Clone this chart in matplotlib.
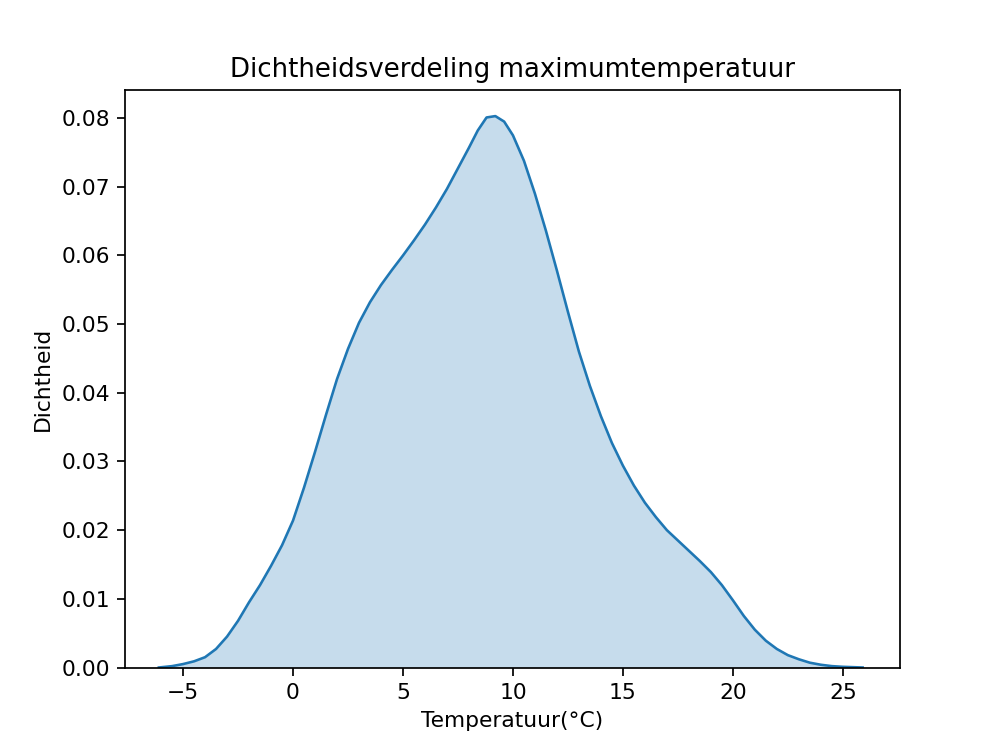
import matplotlib
matplotlib.use("Agg")
import matplotlib.pyplot as plt

temp = [-6.1, -5.5, -5, -4.5, -4, -3.5, -3, -2.5, -2, -1.5, -1, -0.5, 0, 0.5, 1, 1.5, 2, 2.5, 3, 3.5, 4, 4.5, 5, 5.5, 6, 6.5, 7, 7.5, 8, 8.4, 8.8, 9.2, 9.6, 10, 10.5, 11, 11.5, 12, 12.5, 13, 13.5, 14, 14.5, 15, 15.5, 16, 16.5, 17, 17.5, 18, 18.5, 19, 19.5, 20, 20.5, 21, 21.5, 22, 22.5, 23, 23.5, 24, 24.5, 25, 25.9]
density = [0.0, 0.0002, 0.0005, 0.0009, 0.0015, 0.0027, 0.0045, 0.0068, 0.0095, 0.0120, 0.0148, 0.0178, 0.0214, 0.0262, 0.0314, 0.0368, 0.0420, 0.0464, 0.0502, 0.0532, 0.0557, 0.0579, 0.0600, 0.0622, 0.0645, 0.0670, 0.0697, 0.0727, 0.0757, 0.0782, 0.0801, 0.0803, 0.0795, 0.0775, 0.0738, 0.0690, 0.0636, 0.0578, 0.0518, 0.0460, 0.0410, 0.0366, 0.0327, 0.0294, 0.0265, 0.0240, 0.0219, 0.0200, 0.0185, 0.0170, 0.0155, 0.0139, 0.0120, 0.0098, 0.0075, 0.0055, 0.0039, 0.0027, 0.0018, 0.0012, 0.0007, 0.0004, 0.0002, 0.0001, 0.0]

fig, ax = plt.subplots(figsize=(6.4, 4.8), dpi=156.25)
ax.plot(temp, density, color="#1f77b4", lw=1.2)
ax.fill_between(temp, density, color="#1f77b4", alpha=0.25, lw=0)
ax.set_xlim(-7.64, 27.6)
ax.set_ylim(0, 0.0841)
ax.set_title("Dichtheidsverdeling maximumtemperatuur")
ax.set_xlabel("Temperatuur(°C)")
ax.set_ylabel("Dichtheid")
fig.savefig("out.png")
